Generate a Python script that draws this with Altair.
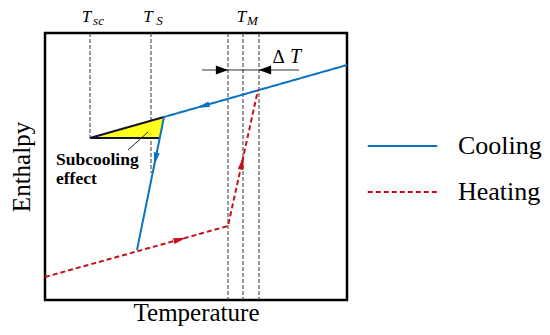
import altair as alt
import pandas as pd

BLUE = "#0a72c2"
RED = "#c8101a"
SERIF = "Liberation Serif"

# ---- data (temperature, enthalpy in schematic units) ----
cool_T = [302, 119, 92]
cool_H = [235, 183, 50]
heat_T = [0, 183, 213]
heat_H = [23, 74, 210]

ref_T = [45, 106, 183, 198, 214]
ref_top = [267, 267, 267, 267, 267]
ref_bottom = [162, 127, 0, 0, 0]

tri_T = [45, 115, 119]
tri_top = [162, 181.9, 183]
tri_bottom = [162, 162, 183]

edge_T = [45, 119, 45, 115]
edge_H = [162, 183, 162, 162]
edge_id = ["top", "top", "bottom", "bottom"]

arrow_T = [158, 110.5, 135, 197, 177, 220]
arrow_H = [194, 141, 60.6, 137, 230, 230]
arrow_angle = [254, 191.5, 74.4, 12.4, 90, 270]
arrow_kind = ["Cooling", "Cooling", "Heating", "Heating", "dT", "dT"]

dT_T = [157, 254]
dT_H = [230, 230]

T_label_x = [41.5, 103, 196.5]
T_sub_x = [53.5, 114.5, 207.5]
T_subs = ["sc", "S", "M"]

note_lines = ["Subcooling", "effect"]
note_x = [11, 11]
note_y = [135, 116]
leader_T = [83, 103]
leader_H = [150, 168]

curves = pd.DataFrame({
    "T": cool_T + heat_T,
    "H": cool_H + heat_H,
    "process": ["Cooling"] * 3 + ["Heating"] * 3,
    "order": [0, 1, 2, 0, 1, 2],
})
refs = pd.DataFrame({"T": ref_T, "top": ref_top, "bottom": ref_bottom})
tri = pd.DataFrame({"T": tri_T, "top": tri_top, "bottom": tri_bottom})
edges = pd.DataFrame({"T": edge_T, "H": edge_H, "id": edge_id})
arrows = pd.DataFrame({"T": arrow_T, "H": arrow_H, "angle": arrow_angle, "kind": arrow_kind})
dT = pd.DataFrame({"T": dT_T, "H": dT_H})
tlab = pd.DataFrame({"x": T_label_x, "t": ["T"] * 3, "y": [278] * 3})
tsub = pd.DataFrame({"x": T_sub_x, "t": T_subs, "y": [275] * 3})
dlab = pd.DataFrame({"x": [233.5], "y": [237], "t": ["Δ"]})
dlab2 = pd.DataFrame({"x": [250.5], "y": [237], "t": ["T"]})
notes = pd.DataFrame({"x": note_x, "y": note_y, "t": note_lines})
leader = pd.DataFrame({"T": leader_T, "H": leader_H})

xs = alt.Scale(domain=[0, 302], nice=False, zero=False)
ys = alt.Scale(domain=[0, 267], nice=False, zero=False)
X = lambda f: alt.X(f, scale=xs, axis=alt.Axis(labels=False, ticks=False, domain=False, grid=False, title="Temperature"))
Y = lambda f: alt.Y(f, scale=ys, axis=alt.Axis(labels=False, ticks=False, domain=False, grid=False, title="Enthalpy"))

rules = alt.Chart(refs).mark_rule(color="#333", strokeDash=[4, 2], strokeWidth=1).encode(
    x=X("T:Q"), y=Y("top:Q"), y2="bottom:Q")

area = alt.Chart(tri).mark_area(color="#ffff1a", opacity=1).encode(
    x=X("T:Q"), y=Y("top:Q"), y2="bottom:Q")

edge_lines = alt.Chart(edges).mark_line(color="#111133", strokeWidth=2).encode(
    x=X("T:Q"), y=Y("H:Q"), detail="id:N")

lines = alt.Chart(curves).mark_line(strokeWidth=2).encode(
    x=X("T:Q"), y=Y("H:Q"),
    color=alt.Color("process:N", title=None,
                    scale=alt.Scale(domain=["Cooling", "Heating"], range=[BLUE, RED])),
    strokeDash=alt.StrokeDash("process:N", title=None,
                              scale=alt.Scale(domain=["Cooling", "Heating"], range=[[1, 0], [5, 3]])),
    order="order:Q",
)

shape_curve = "M0,-1L0.45,1L-0.45,1Z"
shape_dt = "M0,-1L0.75,1L-0.75,1Z"

arr_blue = alt.Chart(arrows[arrows.kind == "Cooling"]).mark_point(
    shape=shape_curve, filled=True, size=170, color=BLUE, opacity=1).encode(
    x=X("T:Q"), y=Y("H:Q"), angle=alt.Angle("angle:Q", scale=None))
arr_red = alt.Chart(arrows[arrows.kind == "Heating"]).mark_point(
    shape=shape_curve, filled=True, size=170, color=RED, opacity=1).encode(
    x=X("T:Q"), y=Y("H:Q"), angle=alt.Angle("angle:Q", scale=None))
arr_dt = alt.Chart(arrows[arrows.kind == "dT"]).mark_point(
    shape=shape_dt, filled=True, size=150, color="black", opacity=1).encode(
    x=X("T:Q"), y=Y("H:Q"), angle=alt.Angle("angle:Q", scale=None))

dT_line = alt.Chart(dT).mark_line(color="#333", strokeWidth=1).encode(x=X("T:Q"), y=Y("H:Q"))
lead = alt.Chart(leader).mark_line(color="#222", strokeWidth=1).encode(x=X("T:Q"), y=Y("H:Q"))

tmain = alt.Chart(tlab).mark_text(font=SERIF, fontStyle="italic", fontSize=17, baseline="alphabetic").encode(
    x=X("x:Q"), y=Y("y:Q"), text="t:N")
tsubm = alt.Chart(tsub).mark_text(font=SERIF, fontStyle="italic", fontSize=13, baseline="alphabetic").encode(
    x=X("x:Q"), y=Y("y:Q"), text="t:N")
dtxt = alt.Chart(dlab).mark_text(font=SERIF, fontSize=19, baseline="alphabetic").encode(
    x=X("x:Q"), y=Y("y:Q"), text="t:N")
dtxt2 = alt.Chart(dlab2).mark_text(font=SERIF, fontStyle="italic", fontSize=20, baseline="alphabetic").encode(
    x=X("x:Q"), y=Y("y:Q"), text="t:N")
ntxt = alt.Chart(notes).mark_text(font=SERIF, fontWeight="bold", fontSize=17.5, align="left", baseline="alphabetic").encode(
    x=X("x:Q"), y=Y("y:Q"), text="t:N")

chart = alt.layer(
    rules, area, edge_lines, lines, arr_blue, arr_red, dT_line, arr_dt, lead,
    tmain, tsubm, dtxt, dtxt2, ntxt
).properties(
    width=302, height=267,
    autosize=alt.AutoSizeParams(type="none"),
    padding={"left": 37, "top": 25, "right": 195, "bottom": 27},
).configure_view(
    stroke="black", strokeWidth=2.5
).configure_axis(
    titleFont=SERIF, titleFontSize=25, titleFontWeight="normal", titleColor="black",
).configure_axisX(titlePadding=0).configure_axisY(titlePadding=11).configure_legend(
    orient="none", legendX=325, legendY=80.5,
    symbolType="M-1.12,0H1.12", symbolSize=3844, symbolStrokeWidth=2.2,
    labelFont=SERIF, labelFontSize=26, labelColor="black", labelOffset=23,
    rowPadding=0,
)

chart.save("out.html", embed_options={"renderer": "svg", "actions": False})
